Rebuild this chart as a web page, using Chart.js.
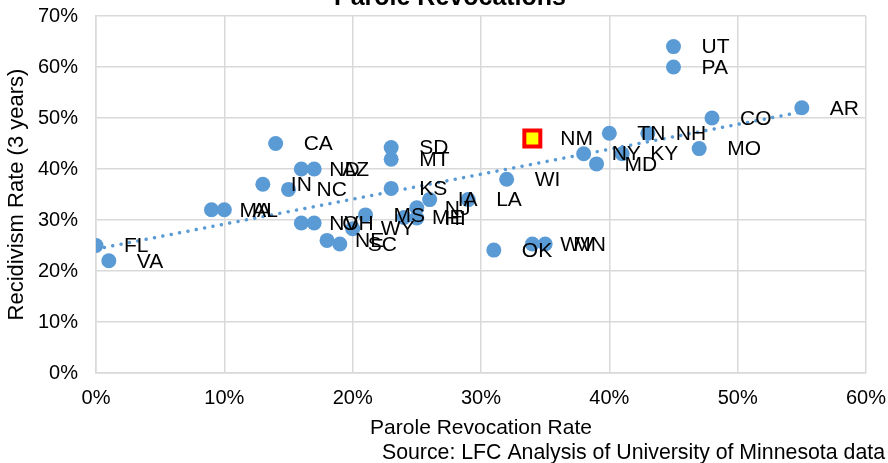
<!DOCTYPE html>
<html>
<head>
<meta charset="utf-8">
<script src="https://cdn.jsdelivr.net/npm/chart.js@4.4.1/dist/chart.umd.min.js"></script>
<style>
  html, body { margin: 0; padding: 0; background: #ffffff; }
  #wrap { width: 888px; height: 463px; position: relative; }
</style>
</head>
<body>
<div id="wrap"><canvas id="c"></canvas></div>
<script>
// ---- Data ----
const states      = ['FL','VA','MA','AL','IN','CA','NC','ND','AZ','NV','OH','NE','SC','WY','MS','SD','MT','KS','ME','NJ','HI','IA','LA','OK','WI','WV','MN','NY','MD','TN','KY','NH','UT','PA','MO','CO','AR'];
const revocation  = [0,   1,   9,   10,  13,  14,  15,  16,  17,  16,  17,  18,  19,  20,  21,  23,  23,  23,  24,  25,  25,  26,  29,  31,  32,  34,  35,  38,  39,  40,  41,  43,  45,  45,  47,  48,  55];
const recidivism  = [25,  22,  32,  32,  37,  45,  36,  40,  40,  29.4,29.4,26,  25.3,28.3,31,  44.2,41.9,36.2,30.5,32.4,30.4,34,  34,  24.1,38,  25.3,25.3,43,  41,  47,  43,  47,  64,  60,  44,  50,  52];

const highlightState = ['NM'];
const highlightRevocation = [34];
const highlightRecidivism = [46];

const trendX = [0, 55];
const trendY = [24.3, 51.2];

const xTicks = [0, 10, 20, 30, 40, 50, 60];
const yTicks = [0, 10, 20, 30, 40, 50, 60, 70];

const chartTitle = 'Parole Revocations';
const xTitle = 'Parole Revocation Rate';
const yTitle = 'Recidivism Rate (3 years)';
const sourceText = 'Source: LFC Analysis of University of Minnesota data';

// ---- Build datasets ----
const FONT = "'Liberation Sans', Arial, sans-serif";
const pts = revocation.map((x, i) => ({ x: x, y: recidivism[i] }));
const hpts = highlightRevocation.map((x, i) => ({ x: x, y: highlightRecidivism[i] }));
const tpts = trendX.map((x, i) => ({ x: x, y: trendY[i] }));

const labelPlugin = {
  id: 'pointLabels',
  afterDatasetsDraw(chart) {
    const ctx = chart.ctx;
    const xs = chart.scales.x, ys = chart.scales.y;
    ctx.save();
    ctx.font = '21px ' + FONT;
    ctx.fillStyle = '#000000';
    ctx.textAlign = 'left';
    ctx.textBaseline = 'middle';
    const all = states.map((s, i) => [s, revocation[i], recidivism[i]])
      .concat(highlightState.map((s, i) => [s, highlightRevocation[i], highlightRecidivism[i]]));
    all.forEach(([s, x, y]) => {
      ctx.fillText(s, xs.getPixelForValue(x) + 28, ys.getPixelForValue(y) + 1);
    });
    ctx.restore();
  }
};

const textPlugin = {
  id: 'extraText',
  afterDraw(chart) {
    const ctx = chart.ctx;
    ctx.save();
    ctx.fillStyle = '#000000';
    ctx.font = 'bold 25px ' + FONT;
    ctx.textAlign = 'center';
    ctx.textBaseline = 'alphabetic';
    ctx.fillText(chartTitle, 450, 5);
    ctx.font = '21.3px ' + FONT;
    ctx.textAlign = 'right';
    ctx.textBaseline = 'middle';
    ctx.fillText(sourceText, 885, 453);
    ctx.restore();
  }
};

new Chart(document.getElementById('c'), {
  type: 'scatter',
  data: {
    datasets: [
      {
        label: 'Highlight',
        data: hpts,
        pointStyle: 'rect',
        pointRadius: 11.3,
        pointHoverRadius: 11.3,
        backgroundColor: '#FFFF00',
        borderColor: '#FF0000',
        borderWidth: 4,
        order: 0
      },
      {
        label: 'Trend',
        data: tpts,
        showLine: true,
        pointRadius: 0,
        borderColor: '#5B9BD5',
        borderWidth: 3.5,
        borderDash: [0.01, 8.5],
        borderCapStyle: 'round',
        fill: false,
        order: 1
      },
      {
        label: 'States',
        data: pts,
        pointRadius: 7.5,
        pointHoverRadius: 7.5,
        backgroundColor: '#5B9BD5',
        borderWidth: 0,
        order: 2
      }
    ]
  },
  options: {
    responsive: true,
    maintainAspectRatio: false,
    animation: false,
    devicePixelRatio: 1,
    layout: { padding: { top: 16, right: 22, left: 0, bottom: 0 } },
    plugins: { legend: { display: false }, tooltip: { enabled: false }, title: { display: false } },
    scales: {
      x: {
        type: 'linear',
        min: xTicks[0],
        max: xTicks[xTicks.length - 1],
        afterBuildTicks: (s) => { s.ticks = xTicks.map(v => ({ value: v })); },
        afterFit: (s) => { s.height = 90; s.paddingLeft = 0; s.paddingRight = 0; },
        grid: { color: '#D9D9D9', lineWidth: 1.5, drawTicks: false },
        border: { display: true, color: '#D9D9D9', width: 1.5 },
        ticks: { color: '#000000', font: { family: FONT, size: 20 }, padding: 13, callback: v => v + '%' },
        title: { display: true, text: xTitle, color: '#000000', font: { family: FONT, size: 21 }, padding: { top: 0, bottom: 22 } }
      },
      y: {
        type: 'linear',
        min: yTicks[0],
        max: yTicks[yTicks.length - 1],
        afterBuildTicks: (s) => { s.ticks = yTicks.map(v => ({ value: v })); },
        afterFit: (s) => { s.width = 96; s.paddingTop = 0; s.paddingBottom = 0; },
        grid: { color: '#D9D9D9', lineWidth: 1.5, drawTicks: false },
        border: { display: true, color: '#D9D9D9', width: 1.5 },
        ticks: { color: '#000000', font: { family: FONT, size: 20 }, padding: 18, callback: v => v + '%' },
        title: { display: true, text: yTitle, color: '#000000', font: { family: FONT, size: 22 }, padding: { top: 4, bottom: 0 } }
      }
    }
  },
  plugins: [labelPlugin, textPlugin]
});
</script>
</body>
</html>
